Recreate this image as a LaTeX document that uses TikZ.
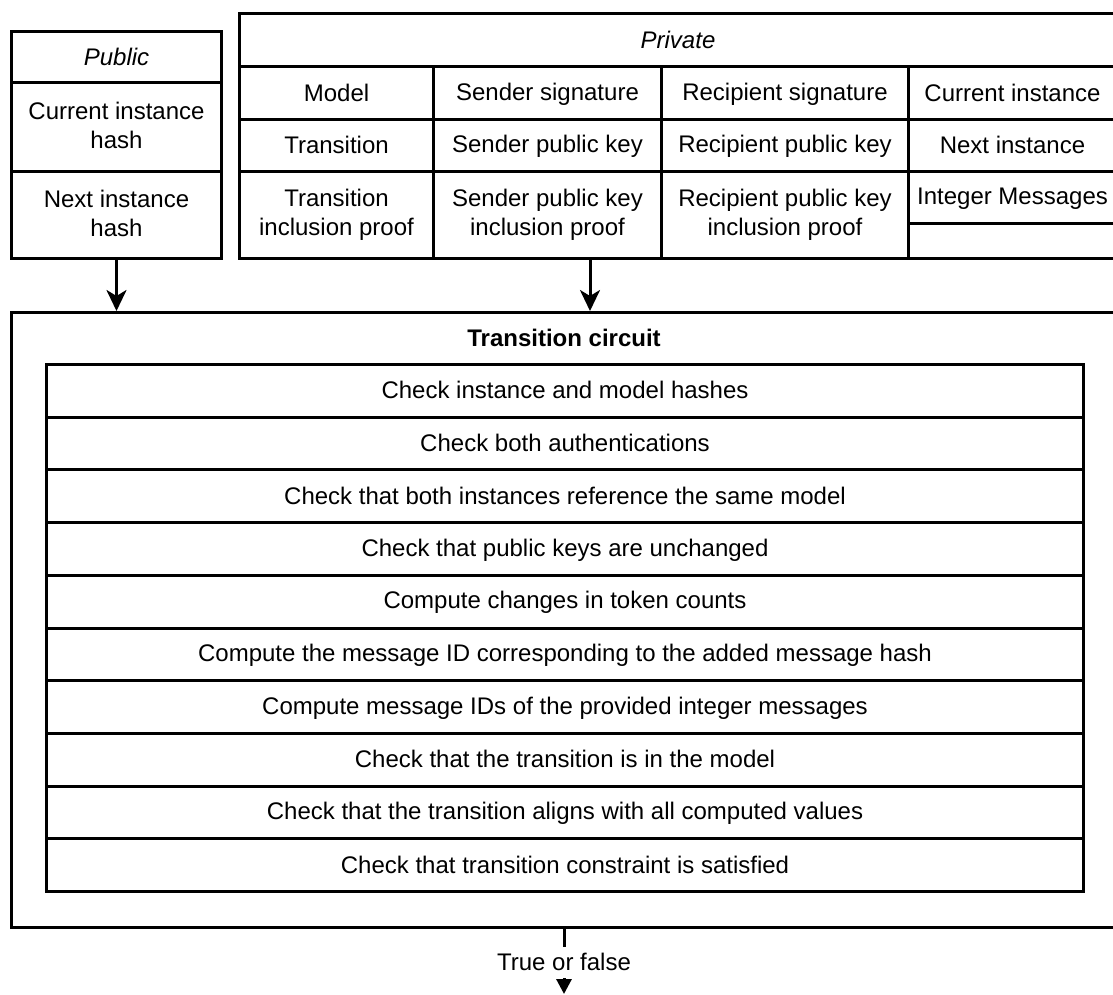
\documentclass[tikz,border=0pt]{standalone}
\usepackage{fontspec}
\setmainfont{Liberation Sans}
\usetikzlibrary{arrows.meta}
% balanced strut so each line sits at the visual centre of its cell
\newcommand{\cellstrut}{\rule[-3.5pt]{0pt}{23pt}}
\begin{document}
\begin{tikzpicture}[x=1pt,y=-1pt,
  every node/.style={font=\fontsize{24}{28.5}\selectfont},
  cell/.style={draw, line width=3pt, anchor=north west, inner sep=0pt, align=center,
    execute at begin node={\cellstrut}, execute at end node={\cellstrut}},
  stepbox/.style={cell, minimum width=1037pt, minimum height=52.7pt},
  arr/.style={line width=3pt, -{Stealth[length=21pt,width=20pt,inset=6pt]}},
  outarr/.style={line width=3pt, -{Triangle[length=15pt,width=15pt]}}]
\useasboundingbox (0,0) rectangle (1113,994);
\clip (0,0) rectangle (1113,994);

% public inputs
\node[cell, minimum width=210pt, minimum height=51pt] (pubhead) at (10,30) {\textit{Public}};
\node[cell, minimum width=210pt, minimum height=89pt] (pubcur) at (10,81) {Current instance\\hash};
\node[cell, minimum width=210pt, minimum height=87pt] (pubnext) at (10,170) {Next instance\\hash};

% private inputs
\node[cell, minimum width=877pt, minimum height=53pt] (privhead) at (238,12) {\textit{Private}};
\node[cell, minimum width=194pt, minimum height=53pt] (model) at (238,65) {Model};
\node[cell, minimum width=228pt, minimum height=53pt] (ssig) at (432,65) {Sender signature};
\node[cell, minimum width=247pt, minimum height=53pt] (rsig) at (660,65) {Recipient signature};
\node[cell, minimum width=208pt, minimum height=53pt] (curinst) at (907,65) {Current instance};
\node[cell, minimum width=194pt, minimum height=52pt] (trans) at (238,118) {Transition};
\node[cell, minimum width=228pt, minimum height=52pt] (spk) at (432,118) {Sender public key};
\node[cell, minimum width=247pt, minimum height=52pt] (rpk) at (660,118) {Recipient public key};
\node[cell, minimum width=208pt, minimum height=52pt] (nextinst) at (907,118) {Next instance};
\node[cell, minimum width=194pt, minimum height=87pt] (transproof) at (238,170) {Transition\\inclusion proof};
\node[cell, minimum width=228pt, minimum height=87pt] (spkproof) at (432,170) {Sender public key\\inclusion proof};
\node[cell, minimum width=247pt, minimum height=87pt] (rpkproof) at (660,170) {Recipient public key\\inclusion proof};
\node[cell, minimum width=208pt, minimum height=52pt] (intmsg) at (907,170) {Integer Messages};
\node[cell, minimum width=208pt, minimum height=35pt] (blank) at (907,222) {};

% transition circuit
\node[cell, minimum width=1108pt, minimum height=615pt] (circuit) at (10,311) {};
\node[font=\fontsize{24}{28.5}\selectfont\bfseries] (title) at (564,338) {Transition circuit};
\foreach \i/\t in {
  0/Check instance and model hashes,
  1/Check both authentications,
  2/Check that both instances reference the same model,
  3/Check that public keys are unchanged,
  4/Compute changes in token counts,
  5/Compute the message ID corresponding to the added message hash,
  6/Compute message IDs of the provided integer messages,
  7/Check that the transition is in the model,
  8/Check that the transition aligns with all computed values,
  9/Check that transition constraint is satisfied}
  \node[stepbox] (step\i) at (45,363+52.7*\i) {\t};

% inputs into the circuit
\draw[arr] (pubnext.south) -- (pubnext.south |- circuit.north);
\coordinate (privout) at (590,257);
\draw[arr] (privout) -- (privout |- circuit.north);

% result
\coordinate (result) at (564,994);
\draw[outarr] (circuit.south -| result) -- (result);
\node[fill=white, inner sep=0pt, minimum height=31pt] (resultlabel) at (564,962) {True or false};
\end{tikzpicture}
\end{document}
